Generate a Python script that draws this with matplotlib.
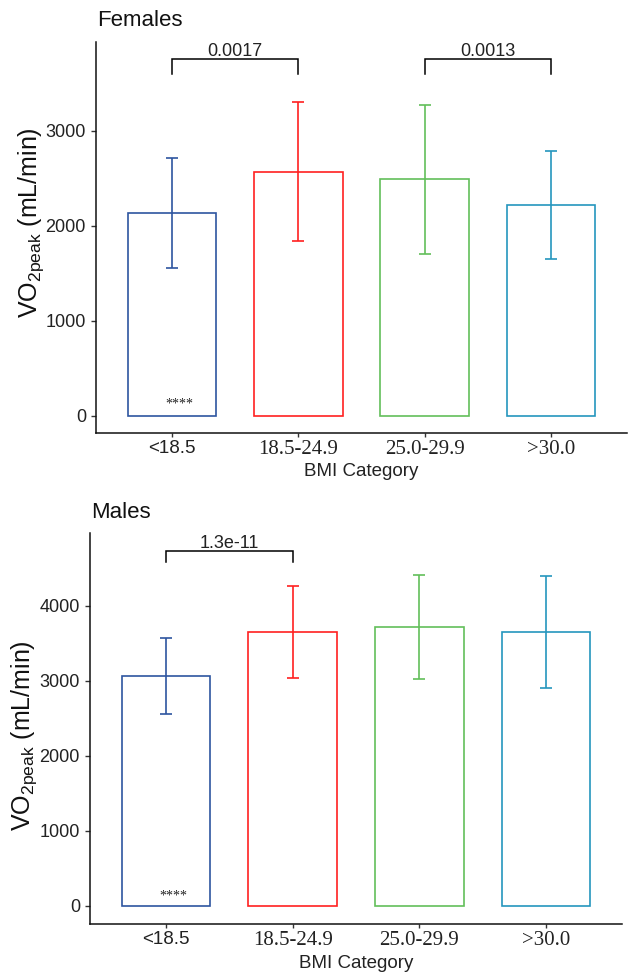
import matplotlib
matplotlib.use("Agg")
import matplotlib.pyplot as plt
import numpy as np

plt.rcParams['font.family'] = ['Liberation Sans', 'DejaVu Sans']
plt.rcParams['mathtext.fontset'] = 'custom'
plt.rcParams['mathtext.rm'] = 'Liberation Sans'
plt.rcParams['mathtext.it'] = 'Liberation Sans:italic'

# ---- data ----
categories = ["<18.5", "18.5-24.9", "25.0-29.9", ">30.0"]
colors = ["#2E55A0", "#FF2020", "#62BF5A", "#2596BE"]

female_mean = [2132, 2566, 2486, 2216]
female_sd = [575, 731, 782, 568]
female_yticks = [0, 1000, 2000, 3000]
female_brackets = [(0, 1, "0.0017"), (2, 3, "0.0013")]
female_bracket_y = 3750
female_bracket_leg = 3592
female_ylim = (-181, 3935)

male_mean = [3067, 3653, 3720, 3649]
male_sd = [511, 615, 695, 747]
male_yticks = [0, 1000, 2000, 3000, 4000]
male_brackets = [(0, 1, "1.3e-11")]
male_bracket_y = 4737
male_bracket_leg = 4587
male_ylim = (-236, 4969)

stars_label = "****"
W, H = 628, 975

fig = plt.figure(figsize=(W / 100, H / 100), dpi=100)


def panel(rect, means, sds, yticks, brackets, by, bleg, ylim, star_y):
    ax = fig.add_axes(rect)
    x = np.arange(len(categories))
    ax.bar(x, means, width=0.7, facecolor="white", edgecolor=colors,
           linewidth=1.2, zorder=2)
    for xi, m, s, c in zip(x, means, sds, colors):
        ax.errorbar(xi, m, yerr=s, color=c, elinewidth=1.2, capsize=4.4,
                    capthick=1.2, zorder=3)
    for a, b, lab in brackets:
        ax.plot([a, a, b, b], [bleg, by, by, bleg], color="black", lw=1.1,
                solid_joinstyle="miter", zorder=3)
        ax.annotate(lab, xy=((a + b) / 2, by), xytext=(0, 2.2),
                    textcoords="offset points", ha="center", va="baseline",
                    fontsize=13, color="#222222")
    ax.text(0.06, star_y, stars_label, ha="center", va="center",
            fontsize=10, family="Liberation Serif", color="#222222")
    ax.set_xlim(-0.6, 3.6)
    ax.set_ylim(*ylim)
    ax.set_yticks(yticks)
    ax.set_yticklabels([str(t) for t in yticks], fontsize=13, color="#222222")
    ax.set_xticks(x)
    ax.set_xticklabels(categories, color="#222222")
    for i, t in enumerate(ax.get_xticklabels()):
        if i == 0:
            t.set_fontfamily("Liberation Sans")
            t.set_fontsize(13.5)
        else:
            t.set_fontfamily("Liberation Serif")
            t.set_fontsize(15)
    ax.tick_params(axis="y", length=3.6, width=1.0, pad=3.6, color="#333333")
    ax.tick_params(axis="x", length=3.0, width=1.0, pad=2, color="#333333")
    for side in ["top", "right"]:
        ax.spines[side].set_visible(False)
    for side in ["left", "bottom"]:
        ax.spines[side].set_linewidth(1.1)
        ax.spines[side].set_color("#111111")
    return ax


ax1 = panel([96 / W, 1 - 432.7 / H, 531 / W, 391 / H], female_mean, female_sd,
            female_yticks, female_brackets, female_bracket_y, female_bracket_leg,
            female_ylim, 121)
ax2 = panel([90 / W, 1 - 923.7 / H, 532 / W, 390.4 / H], male_mean, male_sd,
            male_yticks, male_brackets, male_bracket_y, male_bracket_leg,
            male_ylim, 133)

ylab = r"VO$_{\mathrm{2peak}}$ (mL/min)"
fig.text(97 / W, 1 - 20 / H, "Females", ha="left", va="center", fontsize=16,
         color="#111111")
fig.text(91 / W, 1 - 512 / H, "Males", ha="left", va="center", fontsize=16,
         color="#111111")
fig.text(31 / W, 1 - 223 / H, ylab, rotation=90, ha="center", va="center",
         fontsize=18, color="#111111")
fig.text(24 / W, 1 - 736 / H, ylab, rotation=90, ha="center", va="center",
         fontsize=18, color="#111111")
fig.text(361.5 / W, 1 - 472 / H, "BMI Category", ha="center", va="center",
         fontsize=13.5, color="#222222")
fig.text(356 / W, 1 - 964 / H, "BMI Category", ha="center", va="center",
         fontsize=13.5, color="#222222")

fig.savefig("out.png", dpi=100)
